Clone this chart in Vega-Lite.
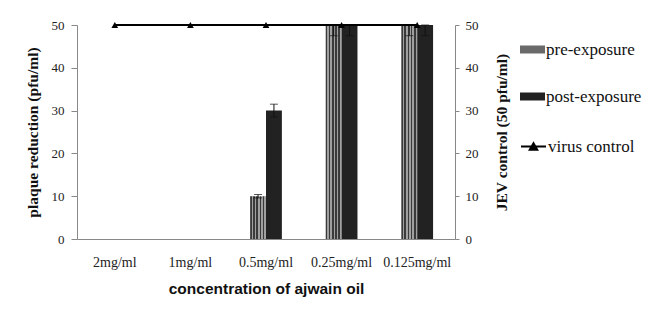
{
  "$schema": "https://vega.github.io/schema/vega-lite/v6.json",
  "width": 378,
  "height": 214,
  "autosize": {"type": "none"},
  "padding": {"left": 77, "top": 25, "right": 204, "bottom": 73},
  "background": "white",
  "config": {
    "view": {"stroke": null},
    "axis": {
      "labelFont": "Liberation Serif",
      "labelFontSize": 13,
      "labelColor": "#222",
      "titleFont": "Liberation Serif",
      "titleFontSize": 15.5,
      "titleFontWeight": "bold",
      "titleColor": "#111",
      "domainColor": "#888",
      "tickColor": "#888",
      "grid": false
    },
    "legend": {
      "labelFont": "Liberation Serif",
      "labelFontSize": 17,
      "labelColor": "#111",
      "padding": 0
    }
  },
  "datasets": {
    "bars": [
      {"conc": "2mg/ml", "series": "pre-exposure", "value": 0},
      {"conc": "2mg/ml", "series": "post-exposure", "value": 0},
      {"conc": "1mg/ml", "series": "pre-exposure", "value": 0},
      {"conc": "1mg/ml", "series": "post-exposure", "value": 0},
      {"conc": "0.5mg/ml", "series": "pre-exposure", "value": 10, "lo": 9.6, "hi": 10.4},
      {"conc": "0.5mg/ml", "series": "post-exposure", "value": 30, "lo": 28.5, "hi": 31.5},
      {"conc": "0.25mg/ml", "series": "pre-exposure", "value": 50, "lo": 47.5, "hi": 50},
      {"conc": "0.25mg/ml", "series": "post-exposure", "value": 50, "lo": 47.5, "hi": 50},
      {"conc": "0.125mg/ml", "series": "pre-exposure", "value": 50, "lo": 47.5, "hi": 50},
      {"conc": "0.125mg/ml", "series": "post-exposure", "value": 50, "lo": 47.5, "hi": 50}
    ],
    "virus": [
      {"conc": "2mg/ml", "series": "virus control", "value": 50},
      {"conc": "1mg/ml", "series": "virus control", "value": 50},
      {"conc": "0.5mg/ml", "series": "virus control", "value": 50},
      {"conc": "0.25mg/ml", "series": "virus control", "value": 50},
      {"conc": "0.125mg/ml", "series": "virus control", "value": 50}
    ]
  },
  "encoding": {
    "x": {
      "field": "conc",
      "type": "nominal",
      "sort": ["2mg/ml", "1mg/ml", "0.5mg/ml", "0.25mg/ml", "0.125mg/ml"],
      "scale": {"paddingInner": 0.58, "paddingOuter": 0.29},
      "axis": {
        "title": "concentration of  ajwain oil",
        "titleFont": "Liberation Sans",
        "titleFontSize": 15.5,
        "titleFontWeight": "bold",
        "labelFontSize": 14,
        "labelAngle": 0,
        "ticks": false,
        "labelPadding": 16,
        "titlePadding": 12
      }
    }
  },
  "layer": [
    {
      "data": {"name": "bars"},
      "encoding": {
        "xOffset": {"field": "series", "type": "nominal", "sort": ["pre-exposure", "post-exposure"], "scale": {"paddingInner": 0, "paddingOuter": 0}}
      },
      "layer": [
        {
          "mark": {"type": "bar", "strokeWidth": 0},
          "encoding": {
            "y": {
              "field": "value",
              "type": "quantitative",
              "scale": {"domain": [0, 50], "nice": false},
              "axis": {"title": "plaque reduction (pfu/ml)", "values": [0, 10, 20, 30, 40, 50], "tickSize": 6, "labelPadding": 7, "titlePadding": 11}
            },
            "fill": {
              "condition": {
                "test": "datum.series === 'pre-exposure'",
                "value": {
                  "gradient": "linear", "x1": 0, "x2": 1, "y1": 0, "y2": 0,
                  "stops": [
                    {"offset": 0, "color": "#3a3a3a"}, {"offset": 0.1, "color": "#3a3a3a"},
                    {"offset": 0.1, "color": "#a0a0a0"}, {"offset": 0.2, "color": "#a0a0a0"},
                    {"offset": 0.2, "color": "#3a3a3a"}, {"offset": 0.3, "color": "#3a3a3a"},
                    {"offset": 0.3, "color": "#a0a0a0"}, {"offset": 0.4, "color": "#a0a0a0"},
                    {"offset": 0.4, "color": "#3a3a3a"}, {"offset": 0.5, "color": "#3a3a3a"},
                    {"offset": 0.5, "color": "#a0a0a0"}, {"offset": 0.6, "color": "#a0a0a0"},
                    {"offset": 0.6, "color": "#3a3a3a"}, {"offset": 0.7, "color": "#3a3a3a"},
                    {"offset": 0.7, "color": "#a0a0a0"}, {"offset": 0.8, "color": "#a0a0a0"},
                    {"offset": 0.8, "color": "#3a3a3a"}, {"offset": 0.9, "color": "#3a3a3a"},
                    {"offset": 0.9, "color": "#a0a0a0"}, {"offset": 1, "color": "#a0a0a0"}
                  ]
                }
              },
              "field": "series",
              "type": "nominal",
              "sort": ["pre-exposure", "post-exposure"],
              "scale": {"domain": ["pre-exposure", "post-exposure"], "range": ["#6a6a6a", "#222222"]},
              "legend": {
                "title": null,
                "orient": "none",
                "legendX": 443,
                "legendY": 12,
                "labelFont": "Liberation Serif",
                "symbolType": "M-1,-0.32H1V0.32H-1Z",
                "symbolSize": 625,
                "symbolStrokeWidth": 0,
                "rowPadding": 26,
                "labelOffset": 1,
                "encode": {
                  "symbols": {
                    "update": {
                      "fill": {"signal": "datum.value === 'pre-exposure' ? {gradient: 'linear', x1: 0, y1: 0, x2: 1, y2: 0, stops: [{offset: 0, color: '#3a3a3a'}, {offset: 0.06, color: '#3a3a3a'}, {offset: 0.06, color: '#a0a0a0'}, {offset: 0.12, color: '#a0a0a0'}, {offset: 0.12, color: '#3a3a3a'}, {offset: 0.18, color: '#3a3a3a'}, {offset: 0.18, color: '#a0a0a0'}, {offset: 0.24, color: '#a0a0a0'}, {offset: 0.24, color: '#3a3a3a'}, {offset: 0.3, color: '#3a3a3a'}, {offset: 0.3, color: '#a0a0a0'}, {offset: 0.36, color: '#a0a0a0'}, {offset: 0.36, color: '#3a3a3a'}, {offset: 0.42, color: '#3a3a3a'}, {offset: 0.42, color: '#a0a0a0'}, {offset: 0.48, color: '#a0a0a0'}, {offset: 0.48, color: '#3a3a3a'}, {offset: 0.54, color: '#3a3a3a'}, {offset: 0.54, color: '#a0a0a0'}, {offset: 0.6, color: '#a0a0a0'}, {offset: 0.6, color: '#3a3a3a'}, {offset: 0.66, color: '#3a3a3a'}, {offset: 0.66, color: '#a0a0a0'}, {offset: 0.72, color: '#a0a0a0'}, {offset: 0.72, color: '#3a3a3a'}, {offset: 0.78, color: '#3a3a3a'}, {offset: 0.78, color: '#a0a0a0'}, {offset: 0.84, color: '#a0a0a0'}, {offset: 0.84, color: '#3a3a3a'}, {offset: 0.9, color: '#3a3a3a'}, {offset: 0.9, color: '#a0a0a0'}, {offset: 0.96, color: '#a0a0a0'}, {offset: 0.96, color: '#3a3a3a'}, {offset: 1, color: '#3a3a3a'}]} : '#222222'"}
                    }
                  }
                }
              }
            }
          }
        },
        {
          "transform": [{"filter": "datum.hi != null"}],
          "mark": {"type": "rule", "color": "#111", "strokeWidth": 1},
          "encoding": {
            "y": {"field": "lo", "type": "quantitative"},
            "y2": {"field": "hi"}
          }
        },
        {
          "transform": [{"filter": "datum.hi != null"}],
          "mark": {"type": "tick", "color": "#111", "thickness": 1, "size": 8},
          "encoding": {"y": {"field": "hi", "type": "quantitative"}}
        },
        {
          "transform": [{"filter": "datum.hi != null"}],
          "mark": {"type": "tick", "color": "#111", "thickness": 1, "size": 8},
          "encoding": {"y": {"field": "lo", "type": "quantitative"}}
        }
      ]
    },
    {
      "data": {"name": "virus"},
      "encoding": {
        "y": {
          "field": "value",
          "type": "quantitative",
          "scale": {"domain": [0, 50], "nice": false},
          "axis": {"orient": "right", "title": "JEV control (50 pfu/ml)", "titleAngle": 270, "values": [0, 10, 20, 30, 40, 50], "tickSize": 4, "labelPadding": 6, "titlePadding": 31}
        }
      },
      "layer": [
        {
          "mark": {"type": "line", "strokeWidth": 2},
          "encoding": {
            "stroke": {
              "field": "series",
              "type": "nominal",
              "scale": {"domain": ["virus control"], "range": ["#000000"]},
              "legend": {
                "title": null,
                "orient": "none",
                "legendX": 443,
                "legendY": 108,
                "labelFont": "Liberation Serif",
                "symbolType": "M-1,0H1M-0.3,0.26L0,-0.26L0.3,0.26Z",
                "symbolSize": 625,
                "symbolStrokeWidth": 2,
                "symbolFillColor": "#000000",
                "labelOffset": 1
              }
            }
          }
        },
        {
          "mark": {"type": "point", "shape": "triangle-up", "filled": true, "color": "#000", "size": 45, "opacity": 1}
        }
      ]
    }
  ],
  "resolve": {"scale": {"y": "independent", "fill": "independent", "stroke": "independent"}}
}
